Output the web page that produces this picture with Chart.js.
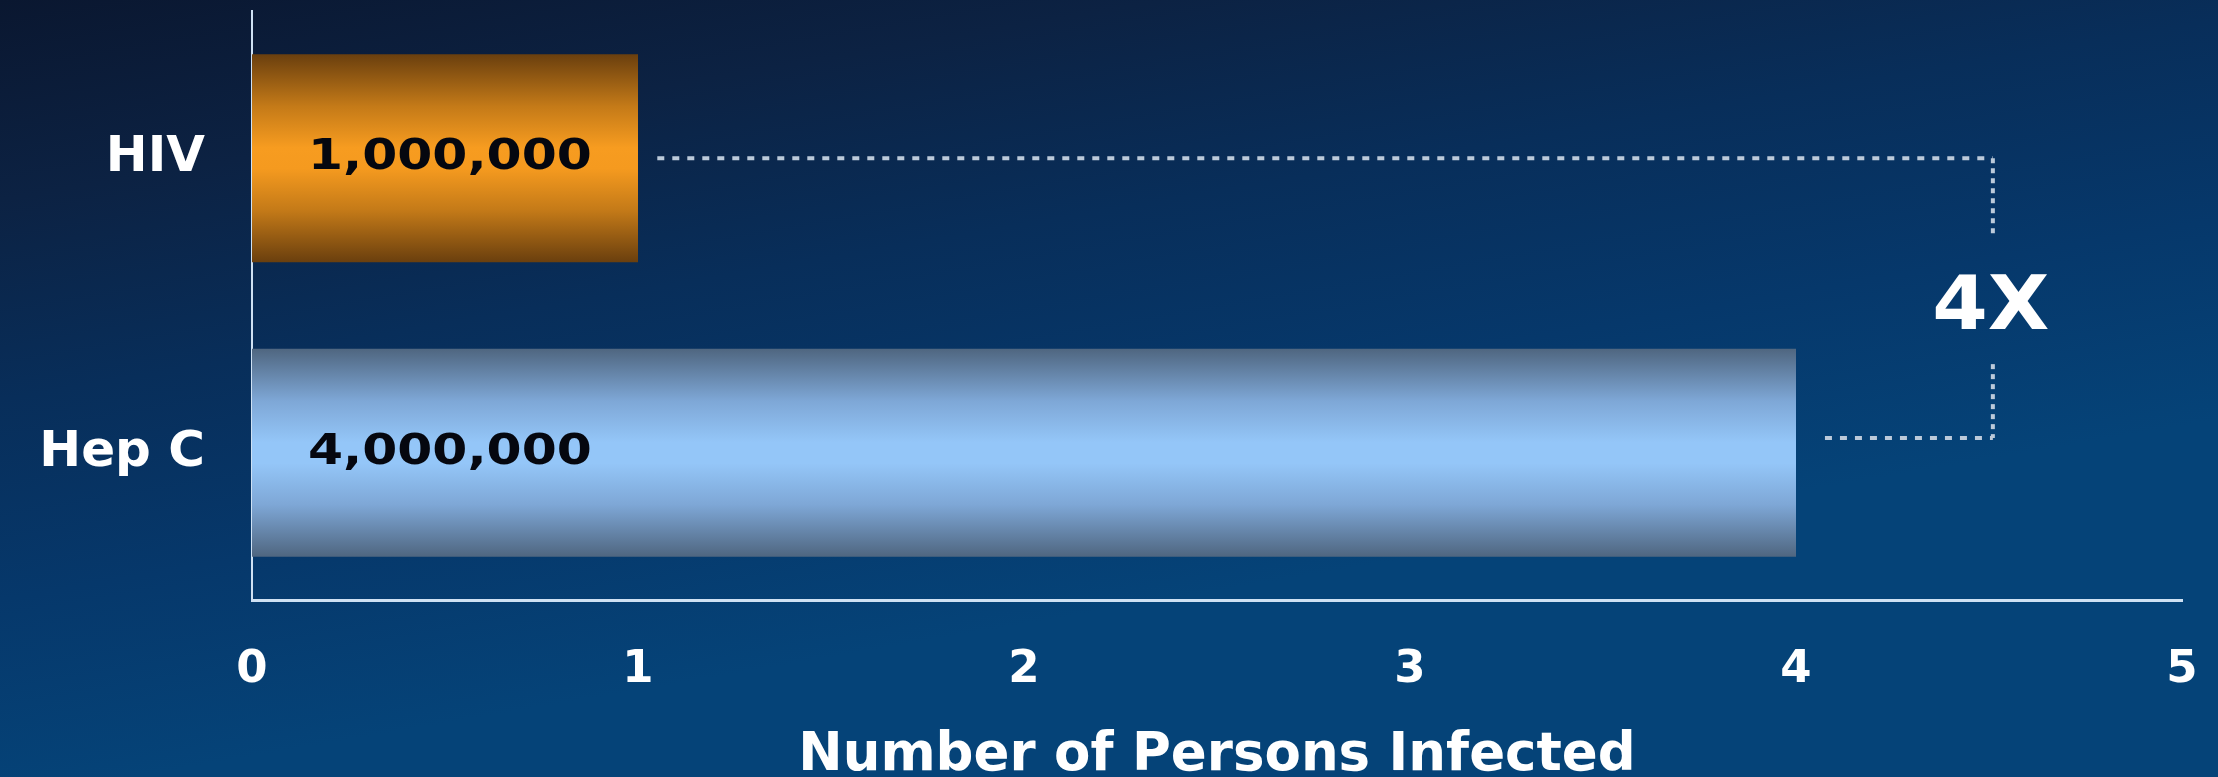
<!DOCTYPE html>
<html><head><meta charset="utf-8">
<script src="https://cdn.jsdelivr.net/npm/chart.js@4/dist/chart.umd.min.js"></script>
<style>
html,body{margin:0;padding:0;background:#0a2040;overflow:hidden}
#wrap{width:2218px;height:777px;position:relative}
canvas{display:block}
</style>
</head><body><div id="wrap"><canvas id="c" width="2218" height="777"></canvas></div>
<script>
// ---- data ----
const categories = ['HIV', 'Hep C'];
const infectedMillions = [1, 4];
const valueLabels = ['1,000,000', '4,000,000'];
const xTickValues = [0, 1, 2, 3, 4, 5];
const axisTitle = 'Number of Persons Infected';
const ratioLabel = '4X';

// ---- styling / annotation settings ----
const FONT = "'DejaVu Sans', 'Liberation Sans', Arial, sans-serif";
const BAR_PCT = 0.706;
const barStops = [
  ['#6a3f0e', '#c47a18', '#f79c20', '#f59a1f', '#c47a18', '#6a3f0e'],
  ['#4f6680', '#7ea7d6', '#94c6f8', '#94c6f8', '#7ea7d6', '#4f6680']
];
const bracket = { x: 4.51, gapAfterBar: [0.05, 0.075], yShift: [0, -0.05], labelGap: 64, labelDrop: 10 };

function barGradient(c, i) {
  const chart = c.chart;
  const area = chart.chartArea;
  const ys = chart.scales.y;
  if (!area || !ys) return barStops[i][2];
  const band = (area.bottom - area.top) / categories.length;
  const cy = ys.getPixelForValue(i);
  const h = band * BAR_PCT;
  const g = chart.ctx.createLinearGradient(0, cy - h / 2, 0, cy + h / 2);
  const s = barStops[i];
  const pos = [0, 0.25, 0.45, 0.55, 0.75, 1];
  s.forEach((col, k) => g.addColorStop(pos[k], col));
  return g;
}

function stretchText(ctx, text, x, y, sx, align) {
  ctx.save();
  ctx.translate(x, y);
  ctx.scale(sx, 1);
  ctx.textAlign = align;
  ctx.fillText(text, 0, 0);
  ctx.restore();
}

const bgPlugin = {
  id: 'bg',
  beforeDraw(chart) {
    const { ctx, width, height } = chart;
    const g = ctx.createLinearGradient(0, 0, width * 0.06, height);
    g.addColorStop(0, '#0a1730');
    g.addColorStop(0.25, '#0c2243');
    g.addColorStop(0.5, '#082e5a');
    g.addColorStop(0.75, '#06386b');
    g.addColorStop(1, '#054378');
    ctx.save();
    ctx.fillStyle = g;
    ctx.fillRect(0, 0, width, height);
    ctx.restore();
  }
};

const labelPlugin = {
  id: 'labels',
  afterDatasetsDraw(chart) {
    const { ctx, chartArea } = chart;
    const xs = chart.scales.x, ys = chart.scales.y;
    ctx.save();
    // value labels inside bars
    ctx.fillStyle = '#05070f';
    ctx.font = `bold 42px ${FONT}`;
    ctx.textBaseline = 'middle';
    valueLabels.forEach((t, i) => {
      stretchText(ctx, t, xs.getPixelForValue(0) + 56, ys.getPixelForValue(i), 1.2, 'left');
    });
    // bracket
    const bx = xs.getPixelForValue(bracket.x);
    const band = (chartArea.bottom - chartArea.top) / categories.length;
    const yTop = ys.getPixelForValue(0) + bracket.yShift[0] * band;
    const yBot = ys.getPixelForValue(1) + bracket.yShift[1] * band;
    const x0 = xs.getPixelForValue(infectedMillions[0] + bracket.gapAfterBar[0]);
    const x1 = xs.getPixelForValue(infectedMillions[1] + bracket.gapAfterBar[1]);
    const yMid = (yTop + yBot) / 2 + 2;
    ctx.strokeStyle = '#bccada';
    ctx.lineWidth = 4;
    ctx.setLineDash([7, 8]);
    ctx.beginPath(); ctx.moveTo(x0, yTop); ctx.lineTo(bx, yTop); ctx.stroke();
    ctx.beginPath(); ctx.moveTo(x1, yBot); ctx.lineTo(bx, yBot); ctx.stroke();
    ctx.setLineDash([5, 5]);
    ctx.beginPath(); ctx.moveTo(bx, yTop); ctx.lineTo(bx, yMid - bracket.labelGap); ctx.stroke();
    ctx.beginPath(); ctx.moveTo(bx, yMid + bracket.labelGap); ctx.lineTo(bx, yBot); ctx.stroke();
    ctx.setLineDash([]);
    // ratio label
    ctx.fillStyle = '#ffffff';
    ctx.font = `bold 74px ${FONT}`;
    stretchText(ctx, ratioLabel, bx - 2, yMid + bracket.labelDrop, 1.08, 'center');
    ctx.restore();
  }
};

new Chart(document.getElementById('c'), {
  type: 'bar',
  data: {
    labels: categories,
    datasets: [{
      data: infectedMillions,
      backgroundColor: c => barGradient(c, c.dataIndex),
      borderWidth: 0,
      barPercentage: BAR_PCT,
      categoryPercentage: 1
    }]
  },
  options: {
    indexAxis: 'y',
    responsive: false,
    animation: false,
    devicePixelRatio: 1,
    layout: { padding: { top: 11, right: 36, left: 0, bottom: 0 } },
    plugins: { legend: { display: false }, tooltip: { enabled: false } },
    scales: {
      x: {
        type: 'linear', min: 0, max: 5,
        afterBuildTicks: s => { s.ticks = xTickValues.map(v => ({ value: v })); },
        ticks: { color: '#ffffff', font: { family: FONT, size: 45, weight: 'bold', lineHeight: 1 }, padding: 48, maxRotation: 0 },
        grid: { display: false, drawTicks: false },
        border: { display: true, color: '#cfe1f3', width: 3 },
        title: { display: true, text: axisTitle, color: '#ffffff', font: { family: FONT, size: 53, weight: 'bold', lineHeight: 0.8 }, padding: { top: 0, bottom: 0 } },
        afterFit: s => { s.height = 177; s.paddingLeft = 0; s.paddingRight = 0; }
      },
      y: {
        type: 'category',
        ticks: { color: '#ffffff', font: { family: FONT, size: 50, weight: 'bold' }, padding: 47 },
        grid: { display: false, drawTicks: false },
        border: { display: true, color: '#cfe1f3', width: 2 },
        afterFit: s => { s.width = 252; s.paddingTop = 0; s.paddingBottom = 0; }
      }
    }
  },
  plugins: [bgPlugin, labelPlugin]
});
</script>
</body></html>
